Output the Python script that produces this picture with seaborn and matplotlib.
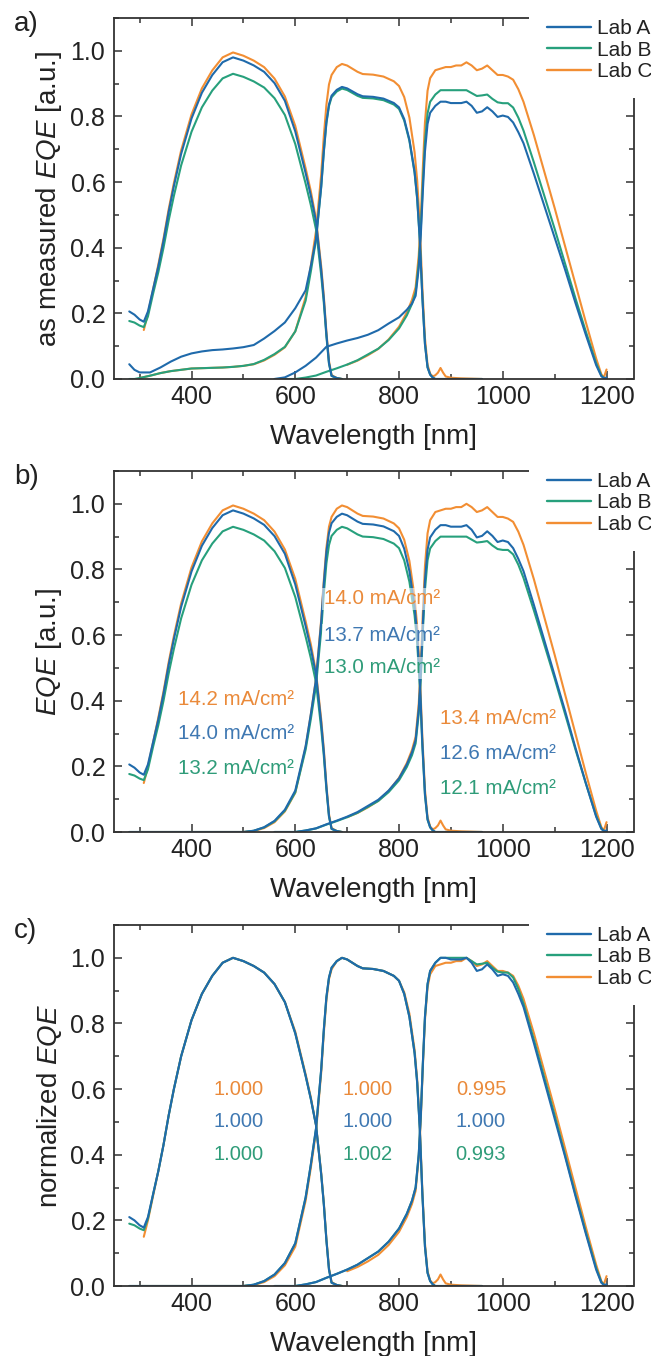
import numpy as np
import pandas as pd
import matplotlib
matplotlib.use("Agg")
import matplotlib.pyplot as plt
import seaborn as sns
from matplotlib.patches import Rectangle
from matplotlib.ticker import MultipleLocator
from matplotlib.lines import Line2D

# ---------------- data ----------------
LABS = ["Lab A", "Lab B", "Lab C"]
COLORS = {"Lab A": "#1f6aab", "Lab B": "#27a07c", "Lab C": "#f28e33"}
TEXT_COLORS = {"Lab A": "#3f78b2", "Lab B": "#2f9c79", "Lab C": "#ea8a3a"}
nan = np.nan

# top sub-cell, normalized EQE
TOP_WL = [280, 290, 300, 308, 316, 326, 336, 346, 356, 366, 380, 400, 420, 440, 460, 480,
          500, 520, 540, 560, 580, 600, 620, 630, 640, 650, 655, 660, 665, 670, 680, 690]
TOP_NORM_A = [0.21, 0.20, 0.185, 0.178, 0.21, 0.28, 0.35, 0.43, 0.52, 0.60, 0.70, 0.81, 0.89, 0.945, 0.985, 1.0,
              0.99, 0.975, 0.955, 0.92, 0.865, 0.77, 0.64, 0.57, 0.49, 0.34, 0.25, 0.14, 0.05, 0.01, 0.003, 0.0]
TOP_NORM_B = [0.19, 0.185, 0.175, 0.17, 0.205, 0.28, 0.35, 0.43, 0.52, 0.60, 0.70, 0.81, 0.89, 0.945, 0.985, 1.0,
              0.99, 0.975, 0.955, 0.92, 0.865, 0.77, 0.64, 0.57, 0.49, 0.34, 0.25, 0.14, 0.05, 0.01, 0.003, 0.0]
TOP_NORM_C = [nan, nan, nan, 0.15, 0.20, 0.275, 0.35, 0.43, 0.52, 0.60, 0.70, 0.81, 0.89, 0.945, 0.985, 1.0,
              0.99, 0.975, 0.955, 0.92, 0.865, 0.775, 0.645, 0.575, 0.49, 0.345, 0.255, 0.145, 0.055, 0.012, 0.003, 0.0]

# middle sub-cell, normalized EQE
MID_WL = [280, 290, 300, 320, 340, 360, 380, 400, 420, 440, 460, 480, 500, 520, 540, 560, 580, 600,
          620, 630, 640, 650, 655, 660, 665, 670, 680, 690, 700, 710, 720, 730, 750, 770, 790, 800,
          810, 820, 830, 835, 840, 845, 850, 855, 860, 865, 870, 875, 880, 885, 890, 900, 920, 960]
MID_NORM_AB = [0, 0, 0, 0, 0, 0, 0, 0, 0, 0, 0, 0, 0.0, 0.004, 0.015, 0.035, 0.07, 0.13,
               0.27, 0.37, 0.48, 0.66, 0.78, 0.88, 0.94, 0.97, 0.99, 1.0, 0.995, 0.985, 0.975, 0.968, 0.966, 0.96, 0.945, 0.93,
               0.89, 0.82, 0.71, 0.62, 0.48, 0.28, 0.12, 0.04, 0.015, 0.005, 0.0, 0, 0, 0, 0, 0, 0, 0]
MID_NORM_C = [nan, nan, 0, 0, 0, 0, 0, 0, 0, 0, 0, 0, 0.0, 0.003, 0.012, 0.03, 0.063, 0.12,
              0.26, 0.36, 0.47, 0.65, 0.77, 0.87, 0.935, 0.965, 0.99, 1.0, 0.995, 0.985, 0.975, 0.968, 0.966, 0.96, 0.945, 0.93,
              0.895, 0.83, 0.72, 0.63, 0.49, 0.29, 0.13, 0.045, 0.017, 0.008, 0.012, 0.02, 0.035, 0.02, 0.008, 0.004, 0.002, 0.0]

# bottom sub-cell, normalized EQE
BOT_WL = [560, 580, 600, 620, 640, 660, 680, 700, 720, 740, 760, 780, 800, 815, 825, 832, 838, 842, 846, 850,
          855, 860, 870, 880, 890, 900, 910, 920, 930, 940, 950, 960, 970, 980, 990, 1000, 1010, 1020, 1030, 1040,
          1060, 1080, 1100, 1120, 1140, 1160, 1180, 1190, 1195, 1200]
BOT_NORM_A = [0, 0, 0.0, 0.005, 0.012, 0.025, 0.037, 0.05, 0.065, 0.085, 0.105, 0.135, 0.175, 0.22, 0.26, 0.30, 0.40, 0.52, 0.68, 0.82,
              0.92, 0.96, 0.985, 1.0, 1.0, 0.995, 0.995, 0.995, 1.0, 0.985, 0.96, 0.965, 0.98, 0.965, 0.945, 0.95, 0.945, 0.925, 0.89, 0.85,
              0.74, 0.625, 0.51, 0.395, 0.275, 0.16, 0.05, 0.01, 0.003, 0.005]
BOT_NORM_B = [0, 0, 0.0, 0.005, 0.012, 0.025, 0.037, 0.05, 0.065, 0.085, 0.105, 0.135, 0.175, 0.22, 0.26, 0.30, 0.40, 0.52, 0.68, 0.82,
              0.92, 0.96, 0.985, 1.0, 1.0, 1.0, 1.0, 1.0, 1.0, 0.99, 0.98, 0.982, 0.985, 0.97, 0.958, 0.955, 0.955, 0.94, 0.905, 0.86,
              0.75, 0.635, 0.52, 0.40, 0.28, 0.165, 0.055, 0.012, 0.004, 0.0]
BOT_NORM_C = [nan, nan, nan, nan, nan, nan, nan, 0.045, 0.058, 0.075, 0.095, 0.125, 0.165, 0.21, 0.25, 0.29, 0.39, 0.51, 0.67, 0.81,
              0.91, 0.95, 0.975, 0.98, 0.985, 0.985, 0.99, 0.99, 1.0, 0.99, 0.975, 0.98, 0.99, 0.975, 0.96, 0.96, 0.955, 0.945, 0.915, 0.875,
              0.77, 0.655, 0.54, 0.42, 0.30, 0.18, 0.065, 0.015, 0.005, 0.03]

# peak (scale) values per lab: (top, middle, bottom)
SCALE_MEASURED = {"Lab A": (0.98, 0.89, 0.845), "Lab B": (0.93, 0.885, 0.88), "Lab C": (0.995, 0.96, 0.965)}
SCALE_EQE = {"Lab A": (0.98, 0.97, 0.935), "Lab B": (0.93, 0.93, 0.90), "Lab C": (0.995, 0.995, 1.0)}

# sub-bandgap background seen in the "as measured" spectra (on MID_WL / BOT_WL grids)
BG_MID_A = [0.045, 0.028, 0.02, 0.02, 0.035, 0.053, 0.068, 0.078, 0.084, 0.088, 0.09, 0.093, 0.097, 0.10, 0.11, 0.115, 0.11, 0.10,
            0.03, 0.015, 0.0]
BG_MID_BC = [0, 0, 0.003, 0.01, 0.018, 0.024, 0.028, 0.032, 0.033, 0.034, 0.035, 0.037, 0.04, 0.042, 0.045, 0.045, 0.036, 0.03, 0.0]
BG_BOT_A = [0.0, 0.005, 0.02, 0.036, 0.055, 0.077, 0.077, 0.075, 0.07, 0.063, 0.06, 0.055, 0.04, 0.025, 0.01, 0.0]

# annotations
JSC_LABELS = {
    "top": ["14.2 mA/cm²", "14.0 mA/cm²", "13.2 mA/cm²"],
    "mid": ["14.0 mA/cm²", "13.7 mA/cm²", "13.0 mA/cm²"],
    "bot": ["13.4 mA/cm²", "12.6 mA/cm²", "12.1 mA/cm²"],
}
RATIO_LABELS = {
    "top": ["1.000", "1.000", "1.000"],
    "mid": ["1.000", "1.000", "1.002"],
    "bot": ["0.995", "1.000", "0.993"],
}
ANNOT_ORDER = ["Lab C", "Lab A", "Lab B"]

YLABELS = [r"as measured $\mathit{EQE}$ [a.u.]", r"$\mathit{EQE}$ [a.u.]", r"normalized $\mathit{EQE}$"]
PANEL_TAGS = ["a)", "b)", "c)"]


def pad(arr, n):
    return list(arr) + [0.0] * (n - len(arr))


NORM = {
    "Lab A": (TOP_NORM_A, MID_NORM_AB, BOT_NORM_A),
    "Lab B": (TOP_NORM_B, MID_NORM_AB, BOT_NORM_B),
    "Lab C": (TOP_NORM_C, MID_NORM_C, BOT_NORM_C),
}
GRIDS = (TOP_WL, MID_WL, BOT_WL)
CELLS = ("top", "mid", "bot")
BG = {
    "Lab A": (None, pad(BG_MID_A, len(MID_WL)), pad(BG_BOT_A, len(BOT_WL))),
    "Lab B": (None, pad(BG_MID_BC, len(MID_WL)), None),
    "Lab C": (None, pad(BG_MID_BC, len(MID_WL)), None),
}

rows = []
for panel in ("a", "b", "c"):
    for lab in LABS:
        for k in range(3):
            wl = np.array(GRIDS[k], float)
            v = np.array(NORM[lab][k], float)
            if panel == "a":
                v = v * SCALE_MEASURED[lab][k]
                if BG[lab][k] is not None:
                    v = v + np.array(BG[lab][k], float)
            elif panel == "b":
                v = v * SCALE_EQE[lab][k]
            for w, y in zip(wl, v):
                if not np.isnan(y):
                    rows.append((panel, lab, CELLS[k], w, y))
df = pd.DataFrame(rows, columns=["panel", "lab", "cell", "wl", "eqe"])

# ---------------- figure ----------------
sns.set_theme(style="white")
plt.rcParams["font.family"] = ["Liberation Sans", "DejaVu Sans"]
plt.rcParams["mathtext.fontset"] = "custom"
plt.rcParams["mathtext.rm"] = "Liberation Sans"
plt.rcParams["mathtext.it"] = "Liberation Sans:italic"

W, H = 651, 1356
fig = plt.figure(figsize=(W / 100, H / 100), dpi=100)
fig.patch.set_facecolor("white")

LEFT_PX, RIGHT_PX = 113.7, 633.5
PANEL_TOPS = [18, 471, 925]
PANEL_H = 361

for i, panel in enumerate(["a", "b", "c"]):
    top = PANEL_TOPS[i]
    ax = fig.add_axes([LEFT_PX / W, 1 - (top + PANEL_H) / H, (RIGHT_PX - LEFT_PX) / W, PANEL_H / H])
    sub = df[df.panel == panel]
    for lab in ["Lab C", "Lab B", "Lab A"]:
        sns.lineplot(data=sub[sub.lab == lab], x="wl", y="eqe", units="cell", estimator=None,
                     sort=False, color=COLORS[lab], lw=1.5, ax=ax, legend=False)
    ax.set_xlim(250, 1252)
    ax.set_ylim(0, 1.1)
    ax.xaxis.set_major_locator(MultipleLocator(200))
    ax.xaxis.set_minor_locator(MultipleLocator(100))
    ax.yaxis.set_major_locator(MultipleLocator(0.2))
    ax.yaxis.set_minor_locator(MultipleLocator(0.1))
    ax.yaxis.set_major_formatter(matplotlib.ticker.FormatStrFormatter("%.1f"))
    ax.tick_params(which="both", direction="in", top=True, right=True, bottom=True, left=True,
                   color="#333333", width=1.1, labelsize=18, labelcolor="#222222")
    ax.tick_params(which="major", length=6, pad=4)
    ax.tick_params(axis="y", which="major", pad=6)
    ax.tick_params(which="minor", length=3.5)
    for s in ax.spines.values():
        s.set_visible(True)
        s.set_color("#333333")
        s.set_linewidth(1.3)
    ax.set_xlabel("Wavelength [nm]", fontsize=20, color="#222222", labelpad=11)
    ax.set_ylabel(YLABELS[i], fontsize=20, color="#222222", labelpad=5)

    # white block behind legend hiding the frame corner
    ax.add_patch(Rectangle(((529) / W, 1 - (top + 80) / H), (W - 529) / W, 90 / H,
                           transform=fig.transFigure, facecolor="white", edgecolor="none",
                           zorder=4, clip_on=False))
    handles = [Line2D([], [], color=COLORS[l], lw=1.7) for l in LABS]
    leg = ax.legend(handles, LABS, loc="upper left",
                    bbox_to_anchor=(547 / W, 1 - (top + 1) / H), bbox_transform=fig.transFigure,
                    frameon=False, fontsize=15, handlelength=2.1, handletextpad=0.3,
                    labelspacing=0.12, borderaxespad=0, borderpad=0)
    leg.set_zorder(6)
    for t in leg.get_texts():
        t.set_color("#222222")

    fig.text(14 / W, 1 - (top + 6) / H, PANEL_TAGS[i], fontsize=20, color="#222222",
             ha="left", va="center")

    if panel == "b":
        groups = [("top", 373, [0.405, 0.30, 0.195], False),
                  ("mid", 655, [0.71, 0.60, 0.50], True),
                  ("bot", 879, [0.345, 0.24, 0.133], False)]
        for cell, x, ys, box in groups:
            for lab, txt, y in zip(ANNOT_ORDER, JSC_LABELS[cell], ys):
                kw = {}
                if box:
                    kw["bbox"] = dict(facecolor="white", alpha=0.55, edgecolor="none", pad=1)
                ax.text(x, y, txt, color=TEXT_COLORS[lab], fontsize=14.8, ha="left", va="center",
                        zorder=5, **kw)
    if panel == "c":
        groups = [("top", 490), ("mid", 740), ("bot", 958)]
        for cell, x in groups:
            for lab, txt, y in zip(ANNOT_ORDER, RATIO_LABELS[cell], [0.6, 0.5, 0.4]):
                ax.text(x, y, txt, color=TEXT_COLORS[lab], fontsize=14.5, ha="center", va="center")

fig.savefig("out.png", dpi=100, facecolor="white")
